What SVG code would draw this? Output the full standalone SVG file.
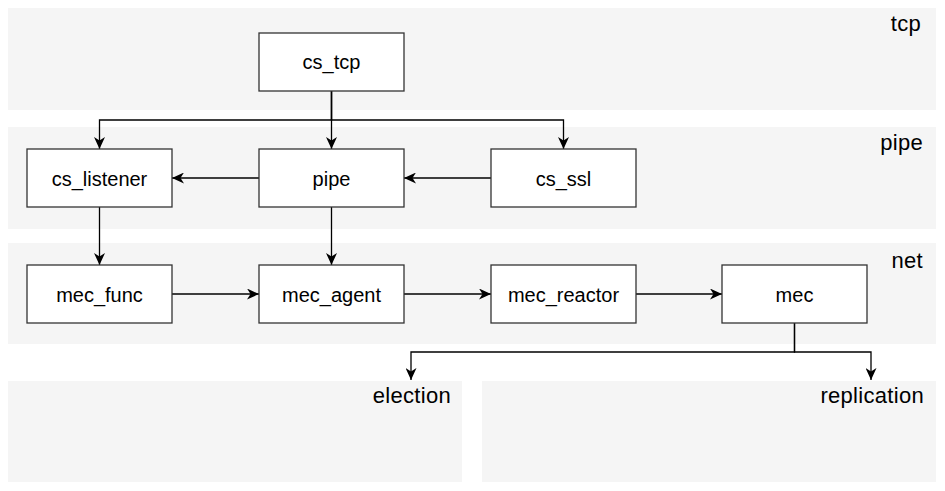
<svg xmlns="http://www.w3.org/2000/svg" width="945" height="491" viewBox="0 0 945 491">
<defs>
<marker id="arr" markerUnits="userSpaceOnUse" markerWidth="13" markerHeight="11" refX="12" refY="5.5" orient="auto">
<path d="M0,0 L12,5.5 L0,11 L3.5,5.5 z" fill="#000"/>
</marker>
<style>
.band{fill:#f5f5f5;stroke:none}
.node rect{fill:#fff;stroke:#333;stroke-width:1.3}
text{font-family:"Liberation Sans",Arial,sans-serif;font-size:20px;fill:#000}
.node text{text-anchor:middle}
.blabel{text-anchor:end;font-size:22px;letter-spacing:0.3px}
.conn path{fill:none;stroke:#000;stroke-width:1.3;marker-end:url(#arr)}
</style>
</defs>
<rect width="945" height="491" fill="#fff"/>
<g id="band-tcp"><rect class="band" x="8" y="8" width="928" height="102"/><text class="blabel" x="921" y="31">tcp</text></g>
<g id="band-pipe"><rect class="band" x="8" y="127" width="928" height="102"/><text class="blabel" x="923" y="150">pipe</text></g>
<g id="band-net"><rect class="band" x="8" y="243" width="928" height="101"/><text class="blabel" x="923" y="268">net</text></g>
<g id="band-election"><rect class="band" x="8" y="381" width="454" height="101"/><text class="blabel" x="451" y="403">election</text></g>
<g id="band-replication"><rect class="band" x="482" y="381" width="454" height="101"/><text class="blabel" x="924" y="403">replication</text></g>
<g id="connectors" class="conn">
<path d="M331.5,91 V120 H99.5 V149"/>
<path d="M331.5,91 V149"/>
<path d="M331.5,91 V120 H563.5 V149"/>
<path d="M259,178 H172"/>
<path d="M491,178 H404"/>
<path d="M99.5,207 V265"/>
<path d="M331.5,207 V265"/>
<path d="M172,294 H259"/>
<path d="M404,294 H491"/>
<path d="M636,294 H722"/>
<path d="M794.5,323 V352 H411 V380"/>
<path d="M794.5,323 V352 H871 V380"/>
</g>
<g id="node-cs_tcp" class="node"><rect x="259" y="33" width="145" height="58"/><text x="331.5" y="69">cs_tcp</text></g>
<g id="node-cs_listener" class="node"><rect x="27" y="149" width="145" height="58"/><text x="99.5" y="185.5">cs_listener</text></g>
<g id="node-pipe" class="node"><rect x="259" y="149" width="145" height="58"/><text x="331.5" y="185.5">pipe</text></g>
<g id="node-cs_ssl" class="node"><rect x="491" y="149" width="145" height="58"/><text x="563.5" y="185.5">cs_ssl</text></g>
<g id="node-mec_func" class="node"><rect x="27" y="265" width="145" height="58"/><text x="99.5" y="301.5">mec_func</text></g>
<g id="node-mec_agent" class="node"><rect x="259" y="265" width="145" height="58"/><text x="331.5" y="301.5">mec_agent</text></g>
<g id="node-mec_reactor" class="node"><rect x="491" y="265" width="145" height="58"/><text x="563.5" y="301.5">mec_reactor</text></g>
<g id="node-mec" class="node"><rect x="722" y="265" width="145" height="58"/><text x="794.5" y="301.5">mec</text></g>
</svg>
